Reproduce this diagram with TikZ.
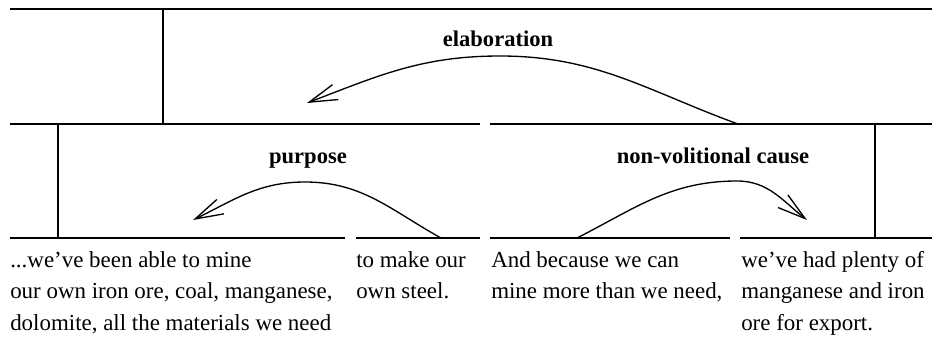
\documentclass[tikz,border=0pt]{standalone}
\usepackage{fontspec}
\setmainfont{Liberation Serif}
\usetikzlibrary{arrows.meta}

\tikzset{
  span/.style={line width=1.3pt},
  stem/.style={line width=1.1pt},
  relarc/.style={line width=1pt, -{Straight Barb[length=21pt,width=12pt]}},
  rellabel/.style={font=\fontsize{16.9}{23.6}\selectfont\bfseries, anchor=base, inner sep=0pt},
  segtext/.style={anchor=base west, align=left, inner sep=0pt}
}

\begin{document}
\begin{tikzpicture}[x=0.75pt, y=-0.75pt, font=\fontsize{17.2}{23.6}\selectfont]
\useasboundingbox (0,0) rectangle (936,343);

%% ── span lines (one pixel = one unit, y runs downwards) ──
% whole text
\coordinate (topL) at (10,9);
\coordinate (topR) at (932,9);
\draw[span] (topL) -- (topR);
% the two halves joined by elaboration
\foreach \n/\a/\b in {1/10/480, 2/490/932}{
  \coordinate (mid\n L) at (\a,124);
  \coordinate (mid\n R) at (\b,124);
  \draw[span] (mid\n L) -- (mid\n R);
}
% elementary segments
\foreach \n/\a/\b in {1/10/345, 2/356/480, 3/490/730, 4/740/932}{
  \coordinate (seg\n L) at (\a,238);
  \coordinate (seg\n R) at (\b,238);
  \draw[span] (seg\n L) -- (seg\n R);
}

%% ── nucleus stems ──
\coordinate (topStem) at (163,9);
\coordinate (leftStem) at (58,124);
\coordinate (rightStem) at (875,124);
\draw[stem] (topStem) -- (topStem |- mid1L);
\draw[stem] (leftStem) -- (leftStem |- seg1L);
\draw[stem] (rightStem) -- (rightStem |- seg4L);

%% ── relations (satellite -> nucleus, through the arc's top) ──
\coordinate (elabFrom) at (738,124);
\coordinate (elabTop) at (500,56);
\coordinate (elabTo) at (307,103);
\draw[relarc] (elabFrom) to[out=160,in=0] (elabTop) to[out=180,in=21] (elabTo);
\node[rellabel] (elab) at (498,46) {elaboration};

\coordinate (purpFrom) at (441,238);
\coordinate (purpTop) at (305,182);
\coordinate (purpTo) at (193,220);
\draw[relarc] (purpFrom) to[out=151,in=0] (purpTop) to[out=180,in=26] (purpTo);
\node[rellabel] (purp) at (308,163) {purpose};

\coordinate (causeFrom) at (577,238);
\coordinate (causeTop) at (737,181);
\coordinate (causeTo) at (807,220);
\draw[relarc] (causeFrom) to[out=27,in=180] (causeTop) to[out=0,in=142] (causeTo);
\node[rellabel] (cause) at (713,163) {non-volitional cause};

%% ── segment texts (base = last line) ──
\node[segtext] (text1) at (10,330) {...we've been able to mine\\our own iron ore, coal, manganese,\\dolomite, all the materials we need};
\node[segtext] (text2) at (356,298.5) {to make our\\own steel.};
\node[segtext] (text3) at (491,298.5) {And because we can\\mine more than we need,};
\node[segtext] (text4) at (741,330) {we've had plenty of\\manganese and iron\\ore for export.};

\end{tikzpicture}
\end{document}
